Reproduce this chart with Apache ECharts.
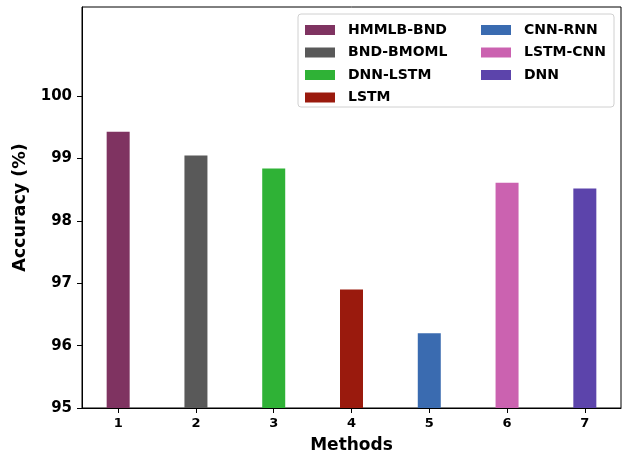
<!DOCTYPE html>
<html>
<head>
<meta charset="utf-8">
<script src="https://cdn.jsdelivr.net/npm/echarts@6/dist/echarts.min.js"></script>
<style>
  html, body { margin: 0; padding: 0; background: #fff; }
  #chart { width: 627px; height: 455px; }
</style>
</head>
<body>
<div id="chart"></div>
<script>
const methods = ['HMMLB-BND', 'BND-BMOML', 'DNN-LSTM', 'LSTM', 'CNN-RNN', 'LSTM-CNN', 'DNN'];
const positions = [1, 2, 3, 4, 5, 6, 7];
const accuracy = [99.43, 99.05, 98.84, 96.90, 96.20, 98.61, 98.52];
const colors = ['#7f3361', '#595959', '#2fb236', '#9a1a0d', '#3a6bb0', '#cb62b0', '#5c44ab'];
const yTicks = [95, 96, 97, 98, 99, 100];

const chart = echarts.init(document.getElementById('chart'));

const font = 'DejaVu Sans';

const series = methods.map((name, i) => ({
  name: name,
  type: 'bar',
  barWidth: 23,
  barGap: '-100%',
  itemStyle: { color: colors[i] },
  data: [[positions[i], accuracy[i]]],
}));

const legendCommon = {
  orient: 'vertical',
  itemWidth: 30,
  itemHeight: 10,
  itemGap: 8.5,
  icon: 'rect',
  z: 10,
  textStyle: {
    fontFamily: font,
    fontWeight: 'bold',
    fontSize: 14,
    color: '#000',
    padding: [0, 0, 0, 8],
  },
};

chart.setOption({
  animation: false,
  color: colors,
  grid: {
    left: 82,
    right: 6,
    top: 7,
    bottom: 47,
    outerBoundsMode: 'none',
    show: true,
    borderColor: '#000',
    borderWidth: 1,
  },
  graphic: [{
    type: 'rect',
    shape: { x: 298, y: 14, width: 316, height: 93, r: 3 },
    style: { fill: 'rgba(255,255,255,0.8)', stroke: '#d0d0d0', lineWidth: 1 },
    z: 3,
  }],
  legend: [
    Object.assign({}, legendCommon, { left: 300, top: 18, data: methods.slice(0, 4) }),
    Object.assign({}, legendCommon, { left: 476, top: 18, data: methods.slice(4) }),
  ],
  xAxis: {
    type: 'value',
    min: 0.535,
    max: 7.465,
    name: 'Methods',
    nameLocation: 'middle',
    nameGap: 29,
    nameTextStyle: { fontFamily: font, fontWeight: 'bold', fontSize: 17, color: '#000' },
    splitLine: { show: false },
    axisLine: { lineStyle: { color: '#000' } },
    axisTick: { customValues: positions, length: 5, lineStyle: { color: '#000' } },
    axisLabel: {
      customValues: positions,
      fontFamily: font,
      fontWeight: 'bold',
      fontSize: 13,
      color: '#000',
      margin: 9,
    },
  },
  yAxis: {
    type: 'value',
    min: 95,
    max: 101.43,
    name: 'Accuracy (%)',
    nameLocation: 'middle',
    nameGap: 51,
    nameTextStyle: { fontFamily: font, fontWeight: 'bold', fontSize: 17.5, color: '#000' },
    splitLine: { show: false },
    axisLine: { show: true, lineStyle: { color: '#000' } },
    axisTick: { show: true, customValues: yTicks, length: 5, lineStyle: { color: '#000' } },
    axisLabel: {
      customValues: yTicks,
      fontFamily: font,
      fontWeight: 'bold',
      fontSize: 15,
      color: '#000',
      margin: 10,
    },
  },
  series: series,
});
</script>
</body>
</html>
